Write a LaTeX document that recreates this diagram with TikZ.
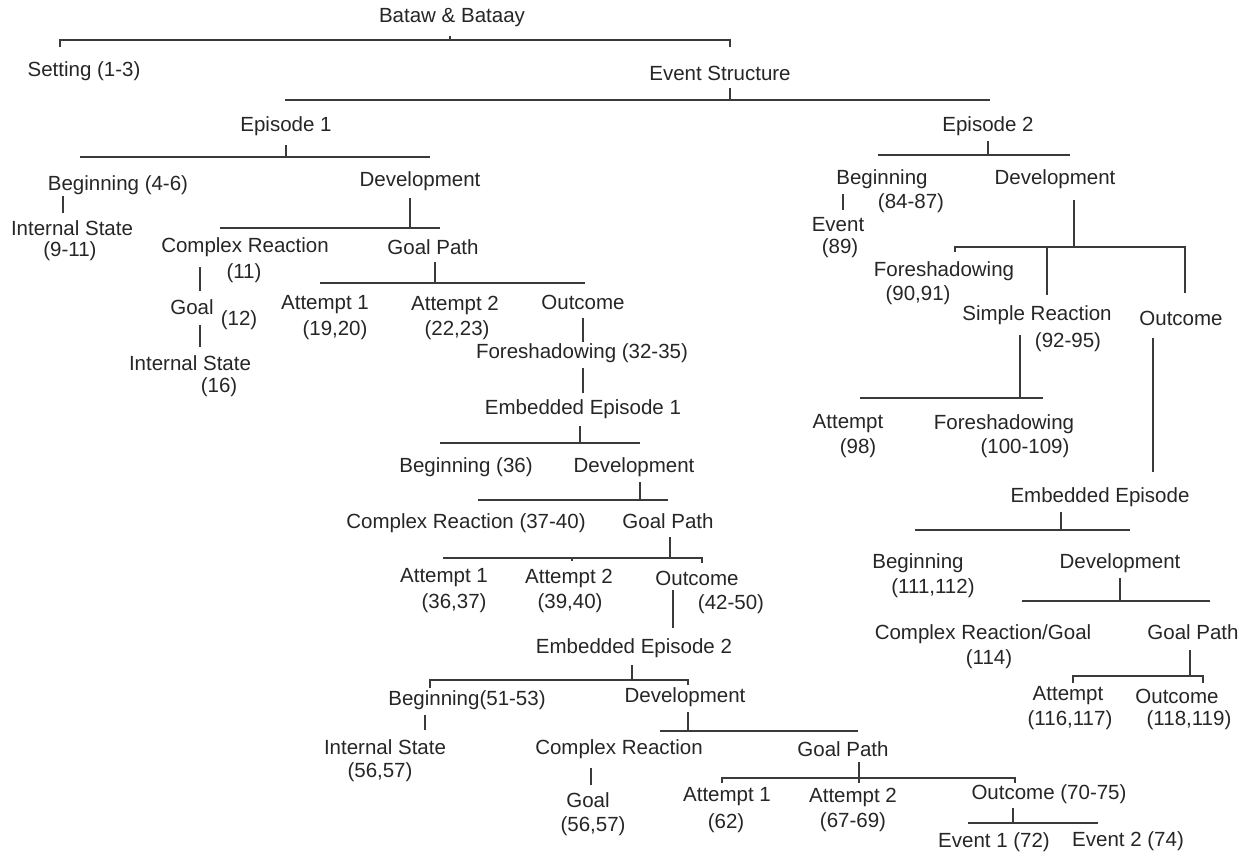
\documentclass[tikz,border=0pt]{standalone}
\usepackage{fontspec}
\setmainfont{Liberation Sans}
\definecolor{txt}{HTML}{262626}
\definecolor{lncol}{HTML}{3A3A3A}
\begin{document}
\begin{tikzpicture}[x=1pt,y=-1pt,
  lbl/.style={inner sep=0pt, text=txt, font=\fontsize{20.5}{23}\selectfont},
  ln/.style={line width=1.6pt, draw=lncol}]
\useasboundingbox[fill=white] (0,0) rectangle (1246,855);
% ---------- nodes ----------
\node[lbl] (title) at (452,18) {Bataw \& Bataay};
\node[lbl] (setting) at (84,71) {Setting (1-3)};
\node[lbl] (evs) at (720,73) {Event Structure};
\node[lbl] (ep1) at (286,126) {Episode 1};
\node[lbl] (ep2) at (988,126) {Episode 2};
% Episode 1
\node[lbl] (beg1) at (118,185) {Beginning (4-6)};
\node[lbl] (dev1) at (420,181) {Development};
\node[lbl] (is1) at (72,228) {Internal State};
\node[lbl] (is1n) at (70,251) {(9-11)};
\node[lbl] (cr1) at (245,247) {Complex Reaction};
\node[lbl] (cr1n) at (244,273) {(11)};
\node[lbl] (gp1) at (433,247) {Goal Path};
\node[lbl] (goal1) at (192,307) {Goal};
\node[lbl] (goal1n) at (239,320) {(12)};
\node[lbl] (is2) at (190,363) {Internal State};
\node[lbl] (is2n) at (219,387) {(16)};
\node[lbl] (at1) at (325,305) {Attempt 1};
\node[lbl] (at1n) at (335,330) {(19,20)};
\node[lbl] (at2) at (455,305) {Attempt 2};
\node[lbl] (at2n) at (457,330) {(22,23)};
\node[lbl] (out1) at (583,302) {Outcome};
\node[lbl] (fs1) at (582,353) {Foreshadowing (32-35)};
\node[lbl] (ee1) at (583,409) {Embedded Episode 1};
\node[lbl] (eb1) at (466,467) {Beginning (36)};
\node[lbl] (ed1) at (634,467) {Development};
\node[lbl] (ecr1) at (466,523) {Complex Reaction (37-40)};
\node[lbl] (egp1) at (668,521) {Goal Path};
\node[lbl] (ea1) at (444,578) {Attempt 1};
\node[lbl] (ea1n) at (454,603) {(36,37)};
\node[lbl] (ea2) at (569,578) {Attempt 2};
\node[lbl] (ea2n) at (570,603) {(39,40)};
\node[lbl] (eo1) at (697,578) {Outcome};
\node[lbl] (eo1n) at (731,604) {(42-50)};
\node[lbl] (ee2) at (634,648) {Embedded Episode 2};
\node[lbl] (fb) at (467,700) {Beginning(51-53)};
\node[lbl] (fd) at (685,697) {Development};
\node[lbl] (fis) at (385,747) {Internal State};
\node[lbl] (fisn) at (380,772) {(56,57)};
\node[lbl] (fcr) at (619,749) {Complex Reaction};
\node[lbl] (fgp) at (843,749) {Goal Path};
\node[lbl] (fgoal) at (588,800) {Goal};
\node[lbl] (fgoaln) at (593,826) {(56,57)};
\node[lbl] (fa1) at (727,797) {Attempt 1};
\node[lbl] (fa1n) at (726,823) {(62)};
\node[lbl] (fa2) at (853,797) {Attempt 2};
\node[lbl] (fa2n) at (853,822) {(67-69)};
\node[lbl] (fo) at (1049,794) {Outcome (70-75)};
\node[lbl] (fe1) at (994,842) {Event 1 (72)};
\node[lbl] (fe2) at (1128,841) {Event 2 (74)};
% Episode 2
\node[lbl] (b2) at (882,179) {Beginning};
\node[lbl] (b2n) at (911,203) {(84-87)};
\node[lbl] (d2) at (1055,179) {Development};
\node[lbl] (ev2) at (838,225) {Event};
\node[lbl] (ev2n) at (840,248) {(89)};
\node[lbl] (fs2) at (944,271) {Foreshadowing};
\node[lbl] (fs2n) at (918,295) {(90,91)};
\node[lbl] (sr) at (1037,315) {Simple Reaction};
\node[lbl] (srn) at (1068,342) {(92-95)};
\node[lbl] (o2) at (1181,318) {Outcome};
\node[lbl] (at3) at (848,424) {Attempt};
\node[lbl] (at3n) at (858,448) {(98)};
\node[lbl] (fs3) at (1004,424) {Foreshadowing};
\node[lbl] (fs3n) at (1025,448) {(100-109)};
\node[lbl] (ee3) at (1100,497) {Embedded Episode};
\node[lbl] (gb) at (918,563) {Beginning};
\node[lbl] (gbn) at (933,588) {(111,112)};
\node[lbl] (gd) at (1120,563) {Development};
\node[lbl] (gcr) at (983,634) {Complex Reaction/Goal};
\node[lbl] (gcrn) at (989,659) {(114)};
\node[lbl] (ggp) at (1193,632) {Goal Path};
\node[lbl] (ga) at (1068,696) {Attempt};
\node[lbl] (gan) at (1070,720) {(116,117)};
\node[lbl] (go) at (1177,696) {Outcome};
\node[lbl] (gon) at (1189,720) {(118,119)};
% ---------- connectors ----------
% root
\coordinate (r1) at (60,40); \coordinate (r2) at (730,40); \coordinate (r0) at (450,40);
\draw[ln] ([yshift=-7pt]r1) -- (r1) -- (r2) -- ([yshift=-7pt]r2);
\draw[ln] ([yshift=4pt]r0) -- (r0);
% event structure
\coordinate (s1) at (285,100); \coordinate (s2) at (990,100); \coordinate (s0) at (730,100);
\draw[ln] (s1) -- (s2);
\draw[ln] ([yshift=12pt]s0) -- (s0);
% episode 1
\coordinate (e1a) at (80,157); \coordinate (e1b) at (430,157); \coordinate (e1t) at (286,157);
\draw[ln] (e1a) -- (e1b);
\draw[ln] ([yshift=12pt]e1t) -- (e1t);
% episode 2
\coordinate (e2a) at (878,155); \coordinate (e2b) at (1070,155); \coordinate (e2t) at (988,155);
\draw[ln] (e2a) -- (e2b);
\draw[ln] ([yshift=14pt]e2t) -- (e2t);
% beginning 1 -> internal state
\coordinate (k1a) at (63,196); \coordinate (k1b) at (63,213);
\draw[ln] (k1a) -- (k1b);
% development 1
\coordinate (d1t) at (410,198); \coordinate (d1m) at (410,228);
\coordinate (d1a) at (220,228); \coordinate (d1b) at (440,228);
\draw[ln] (d1t) -- (d1m); \draw[ln] (d1a) -- (d1b);
% goal path 1
\coordinate (g1t) at (435,262); \coordinate (g1m) at (435,283);
\coordinate (g1a) at (320,283); \coordinate (g1b) at (585,283);
\draw[ln] (g1t) -- (g1m); \draw[ln] (g1a) -- (g1b);
% complex reaction -> goal -> internal state
\coordinate (c1a) at (200,267); \coordinate (c1b) at (200,291);
\draw[ln] (c1a) -- (c1b);
\coordinate (c2a) at (200,325); \coordinate (c2b) at (200,347);
\draw[ln] (c2a) -- (c2b);
% outcome -> foreshadowing -> embedded episode 1
\coordinate (o1a) at (583,318); \coordinate (o1b) at (583,342);
\draw[ln] (o1a) -- (o1b);
\coordinate (f1a) at (583,368); \coordinate (f1b) at (583,393);
\draw[ln] (f1a) -- (f1b);
% embedded episode 1
\coordinate (x1t) at (580,426); \coordinate (x1m) at (580,443);
\coordinate (x1a) at (440,443); \coordinate (x1b) at (640,443);
\draw[ln] (x1t) -- (x1m); \draw[ln] (x1a) -- (x1b);
% embedded development 1
\coordinate (y1t) at (640,482); \coordinate (y1m) at (640,500);
\coordinate (y1a) at (478,500); \coordinate (y1b) at (668,500);
\draw[ln] (y1t) -- (y1m); \draw[ln] (y1a) -- (y1b);
% embedded goal path 1
\coordinate (z1t) at (670,537); \coordinate (z1m) at (670,558);
\coordinate (z1a) at (443,558); \coordinate (z1b) at (702,558);
\coordinate (z1c) at (572,558);
\draw[ln] (z1t) -- (z1m); \draw[ln] (z1a) -- (z1b) -- ([yshift=-5pt]z1b);
\draw[ln] (z1c) -- ([yshift=-3pt]z1c);
% outcome -> embedded episode 2
\coordinate (o3a) at (673,590); \coordinate (o3b) at (673,628);
\draw[ln] (o3a) -- (o3b);
% embedded episode 2
\coordinate (x2t) at (632,665); \coordinate (x2m) at (632,680);
\coordinate (x2a) at (430,680); \coordinate (x2b) at (688,680);
\draw[ln] (x2t) -- (x2m);
\draw[ln] ([yshift=-8pt]x2a) -- (x2a) -- (x2b) -- ([yshift=-5pt]x2b);
% beginning(51-53) -> internal state
\coordinate (k2a) at (425,715); \coordinate (k2b) at (425,730);
\draw[ln] (k2a) -- (k2b);
% development (embedded 2)
\coordinate (y2t) at (688,712); \coordinate (y2m) at (688,731);
\coordinate (y2a) at (660,731); \coordinate (y2b) at (858,731);
\draw[ln] (y2t) -- (y2m); \draw[ln] (y2a) -- (y2b);
% complex reaction -> goal
\coordinate (c3a) at (591,768); \coordinate (c3b) at (591,785);
\draw[ln] (c3a) -- (c3b);
% goal path (embedded 2)
\coordinate (z2t) at (859,762); \coordinate (z2m) at (859,783);
\coordinate (z2a) at (722,778); \coordinate (z2b) at (1015,778);
\draw[ln] (z2t) -- (z2m);
\draw[ln] ([yshift=-5pt]z2a) -- (z2a) -- (z2b) -- ([yshift=-5pt]z2b);
% outcome (70-75)
\coordinate (o4t) at (1013,808); \coordinate (o4m) at (1013,823);
\coordinate (o4a) at (968,823); \coordinate (o4b) at (1098,823);
\draw[ln] (o4t) -- (o4m); \draw[ln] (o4a) -- (o4b);
% episode 2: beginning -> event
\coordinate (k3a) at (843,194); \coordinate (k3b) at (843,210);
\draw[ln] (k3a) -- (k3b);
% episode 2 development
\coordinate (d2t) at (1074,200); \coordinate (d2m) at (1074,247);
\coordinate (d2a) at (955,247); \coordinate (d2b) at (1185,247);
\coordinate (d2c) at (1047,247);
\draw[ln] (d2t) -- (d2m);
\draw[ln] ([yshift=-5pt]d2a) -- (d2a) -- (d2b) -- ([yshift=-46pt]d2b);
\draw[ln] (d2c) -- ([yshift=-48pt]d2c);
% simple reaction
\coordinate (s3t) at (1020,335); \coordinate (s3m) at (1020,398);
\coordinate (s3a) at (860,398); \coordinate (s3b) at (1043,398);
\draw[ln] (s3t) -- (s3m); \draw[ln] (s3a) -- (s3b);
% outcome -> embedded episode
\coordinate (o5a) at (1153,338); \coordinate (o5b) at (1153,472);
\draw[ln] (o5a) -- (o5b);
% embedded episode (ep 2)
\coordinate (x3t) at (1061,512); \coordinate (x3m) at (1061,530);
\coordinate (x3a) at (915,530); \coordinate (x3b) at (1130,530);
\draw[ln] (x3t) -- (x3m); \draw[ln] (x3a) -- (x3b);
% development (ep 2 embedded)
\coordinate (y3t) at (1120,578); \coordinate (y3m) at (1120,601);
\coordinate (y3a) at (1022,601); \coordinate (y3b) at (1210,601);
\draw[ln] (y3t) -- (y3m); \draw[ln] (y3a) -- (y3b);
% goal path (ep 2 embedded)
\coordinate (z3t) at (1190,650); \coordinate (z3m) at (1190,676);
\coordinate (z3a) at (1073,676); \coordinate (z3b) at (1203,676);
\draw[ln] (z3t) -- (z3m);
\draw[ln] ([yshift=-7pt]z3a) -- (z3a) -- (z3b) -- ([yshift=-7pt]z3b);
\end{tikzpicture}
\end{document}
